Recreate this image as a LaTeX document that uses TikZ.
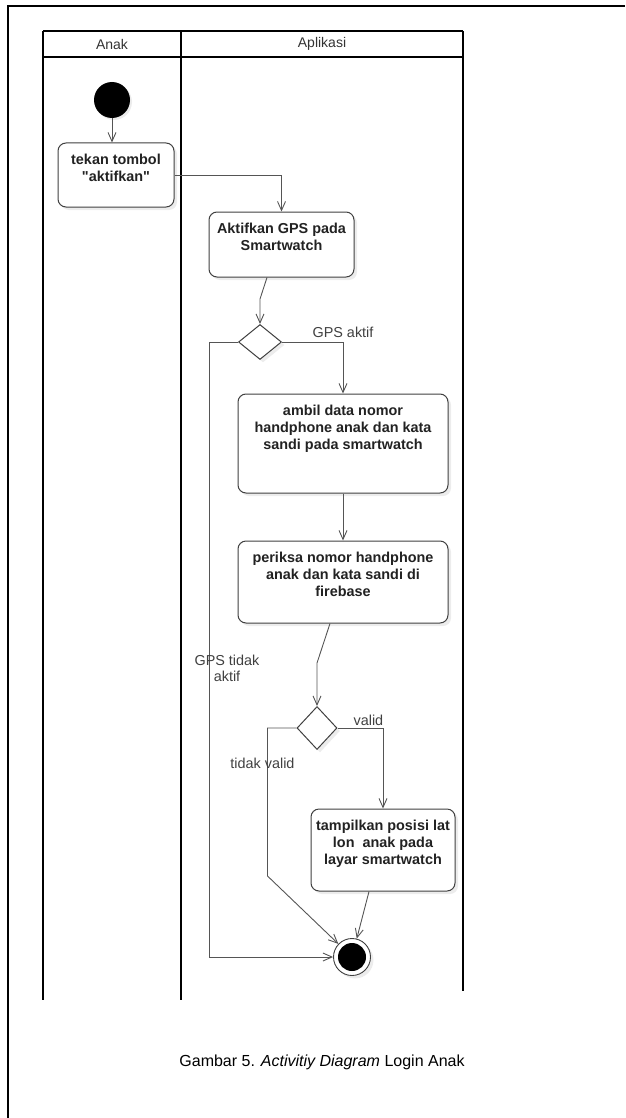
\documentclass[tikz,border=0pt]{standalone}
\usepackage{fontspec}
\setmainfont{Liberation Sans}[Ligatures=TeXOff]
\usetikzlibrary{arrows.meta, shapes.geometric, shadows}

\definecolor{garis}{HTML}{555555}
\definecolor{teks}{HTML}{222222}

\tikzset{
  lajur/.style={line width=1.4pt, black},
  aktivitas/.style={draw=black!75, line width=1pt, rounded corners=8pt, fill=white,
    drop shadow={shadow xshift=3pt, shadow yshift=-3pt, opacity=0.15}},
  isi/.style={anchor=north, align=center, inner sep=0pt, yshift=-11pt, text=teks,
    font=\fontsize{14.4}{17}\selectfont\bfseries},
  keputusan/.style={diamond, draw=black!75, line width=1pt, fill=white, inner sep=0pt,
    drop shadow={shadow xshift=3pt, shadow yshift=-3pt, opacity=0.15}},
  mulai/.style={circle, fill=black, minimum size=36pt, inner sep=0pt,
    drop shadow={shadow xshift=2pt, shadow yshift=-2pt, opacity=0.15}},
  akhir/.style={circle, draw=black!75, line width=0.9pt, fill=white, minimum size=37pt, inner sep=0pt,
    drop shadow={shadow xshift=3pt, shadow yshift=-3pt, opacity=0.15},
    path picture={\fill[black] (path picture bounding box.center) circle (14pt);}},
  alur/.style={draw=garis, line width=0.9pt, -{Straight Barb[length=9pt, width=8pt]}},
  ket/.style={text=black!75, font=\fontsize{14.4}{16}\selectfont, inner sep=2pt, align=center},
}

\begin{document}
\begin{tikzpicture}[x=1pt, y=-1pt]
  \useasboundingbox (0,0) rectangle (625,1118);

  % --- BINGKAI HALAMAN ---
  \draw[line width=2pt] (7.5,1118) -- (7.5,6) -- (625,6);

  % --- SWIMLANE ---
  \draw[lajur] (43,31) -- (463,31);
  \draw[lajur] (43,57) -- (463,57);
  \draw[lajur] (43,31) -- (43,1000);
  \draw[lajur] (181,31) -- (181,1000);
  \draw[lajur] (463,31) -- (463,991);
  \node[text=black!80, font=\fontsize{14}{16}\selectfont] (lajurAnak) at (112,44) {Anak};
  \node[text=black!80, font=\fontsize{14}{16}\selectfont] (lajurApp) at (322,44) {Aplikasi};

  % --- AKTIVITAS ---
  \node[mulai] (start) at (112,100) {};
  \node[aktivitas, minimum width=116pt, minimum height=64pt,
    label={[isi]north:{tekan tombol\\"aktifkan"}}] (tekan) at (116,175) {};
  \node[aktivitas, minimum width=145pt, minimum height=65pt,
    label={[isi]north:{Aktifkan GPS pada\\Smartwatch}}] (gps) at (281.5,244.5) {};
  \node[keputusan, minimum width=43pt, minimum height=35pt] (cekGps) at (260,342) {};
  \node[aktivitas, minimum width=210pt, minimum height=99pt,
    label={[isi]north:{ambil data nomor\\handphone anak dan kata\\sandi pada smartwatch}}] (ambil) at (343,443.5) {};
  \node[aktivitas, minimum width=210pt, minimum height=82pt,
    label={[isi]north:{periksa nomor handphone\\anak dan kata sandi di\\firebase}}] (periksa) at (343,582) {};
  \node[keputusan, minimum width=40pt, minimum height=43pt] (cekValid) at (317,728) {};
  \node[aktivitas, minimum width=144pt, minimum height=82pt,
    label={[isi]north:{tampilkan posisi lat\\lon\ \ anak pada\\layar smartwatch}}] (tampil) at (383,850) {};
  \node[akhir] (end) at (352,957) {};

  % --- ALUR ---
  \draw[alur] (start.south) -- (start.south |- tekan.north);
  \draw[alur] (tekan.east) -| (gps.north);
  \draw[alur] ([xshift=-14.5pt]gps.south) -- ([yshift=25pt]cekGps.north) -- (cekGps.north);
  \draw[alur] (cekGps.east) -| node[ket, pos=0.5, above, yshift=2pt] {GPS aktif} (ambil.north);
  \draw[alur] (cekGps.west) -- ++(-29,0)
    |- node[ket, pos=0.265, xshift=18pt] {GPS tidak\\aktif} (end.west);
  \draw[alur] (ambil.south) -- (periksa.north);
  \draw[alur] ([xshift=-13pt]periksa.south) -- ([yshift=43pt]cekValid.north) -- (cekValid.north);
  \draw[alur] (cekValid.east) -| node[ket, pos=0.34, above] {valid} (tampil.north);
  \draw[alur] (cekValid.west) -- ++(-29,0)
    -- node[ket, pos=0.24, xshift=-5pt] {tidak valid} ++(0,148) -- (end);
  \draw[alur] ([xshift=-14pt]tampil.south) -- (end);

  % --- KETERANGAN ---
  \node[font=\fontsize{16}{19}\selectfont] (judul) at (322,1062)
    {Gambar 5. \textit{Activitiy Diagram} Login Anak};

\end{tikzpicture}
\end{document}
